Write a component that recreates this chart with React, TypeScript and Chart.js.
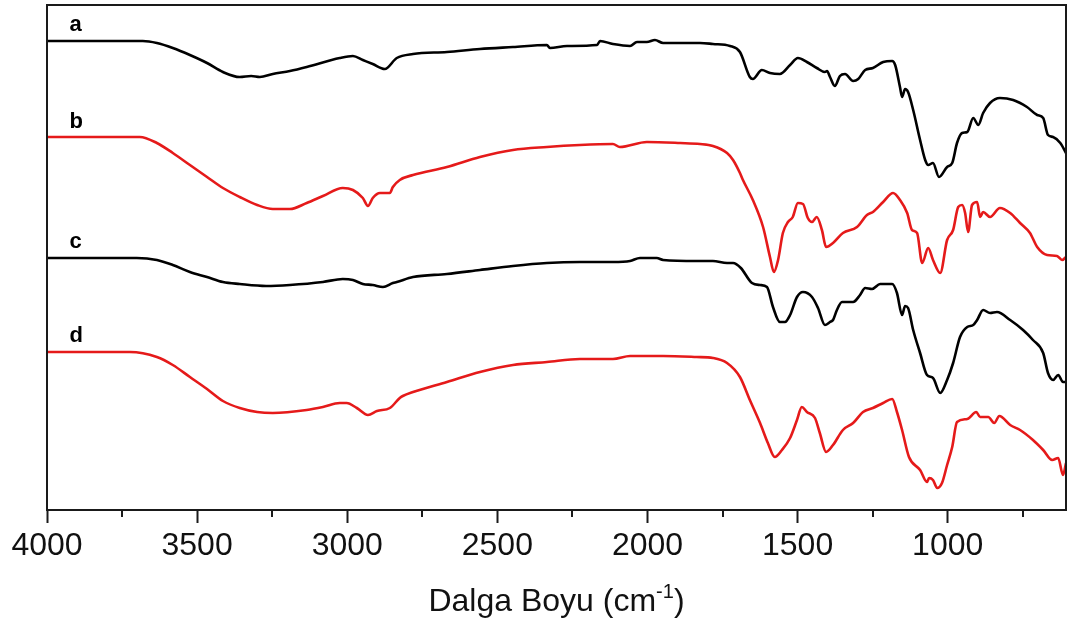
import { useEffect, useRef } from 'react';
import { Chart, registerables } from 'chart.js';

Chart.register(...registerables);

// X axis (wavenumber, cm-1)
const xMin = 606;
const xMax = 4000;
const xTicks = [4000, 3500, 3000, 2500, 2000, 1500, 1000];
const xMinorTicks = [3750, 3250, 2750, 2250, 1750, 1250, 750];

// Series labels and label anchors (wavenumber, offset transmittance)
const seriesNames = ['a', 'b', 'c', 'd'];
const seriesColors = ['#000000', '#e51a1a', '#000000', '#e51a1a'];
const labelWavenumber = 3925;
const labelLevels = [479, 382, 262, 168];

// Spectrum a
const aWavenumbers = [4000, 3800, 3681, 3634, 3581, 3524, 3467, 3414, 3358, 3320, 3291, 3248, 3191, 3135, 3025, 2981, 2948, 2915, 2875, 2835, 2781, 2668, 2558, 2448, 2335, 2325, 2268, 2168, 2158, 2115, 2058, 2035, 2002, 1975, 1948, 1891, 1825, 1782, 1725, 1692, 1659, 1649, 1619, 1592, 1559, 1525, 1499, 1469, 1436, 1409, 1402, 1392, 1376, 1359, 1342, 1315, 1298, 1275, 1249, 1215, 1185, 1175, 1159, 1152, 1142, 1132, 1115, 1092, 1075, 1065, 1049, 1029, 1002, 985, 969, 952, 935, 915, 898, 882, 859, 826, 782, 736, 702, 682, 666, 649, 625, 606];
const aValues = [469, 469, 469, 467, 462, 455, 447, 438, 433, 434, 433, 436, 439, 443, 452, 454, 450, 446, 441, 452, 456, 458, 461, 463, 465, 462, 464, 465, 469, 466, 464, 468, 468, 470, 467, 467, 467, 466, 464, 458, 433, 431, 440, 437, 436, 445, 452, 448, 442, 438, 439, 433, 424, 434, 436, 429, 431, 440, 442, 448, 449, 445, 423, 413, 421, 418, 400, 370, 350, 345, 347, 333, 343, 347, 367, 377, 378, 392, 385, 397, 407, 412, 410, 403, 395, 392, 375, 373, 367, 357];

// Spectrum b
const bWavenumbers = [4000, 3691, 3634, 3581, 3524, 3467, 3414, 3358, 3300, 3248, 3191, 3135, 3081, 3015, 2981, 2948, 2931, 2915, 2891, 2858, 2848, 2825, 2781, 2668, 2558, 2448, 2335, 2225, 2115, 2092, 2002, 1891, 1825, 1782, 1735, 1715, 1692, 1682, 1649, 1615, 1592, 1579, 1565, 1549, 1532, 1516, 1499, 1482, 1466, 1452, 1436, 1419, 1405, 1382, 1349, 1302, 1269, 1249, 1215, 1182, 1159, 1135, 1119, 1102, 1085, 1065, 1049, 1025, 1002, 982, 965, 952, 942, 932, 919, 902, 892, 882, 859, 826, 792, 759, 726, 702, 669, 636, 619, 606];
const bValues = [373, 373, 367, 357, 345, 333, 322, 313, 305, 301, 301, 307, 314, 322, 320, 312, 304, 312, 317, 317, 323, 330, 335, 343, 353, 360, 363, 365, 366, 363, 368, 367, 366, 364, 357, 350, 337, 330, 310, 283, 253, 238, 250, 277, 288, 293, 307, 306, 292, 288, 293, 280, 263, 267, 277, 283, 295, 298, 308, 317, 310, 297, 280, 277, 247, 262, 250, 237, 270, 280, 303, 305, 297, 278, 305, 308, 293, 298, 293, 302, 297, 287, 277, 263, 255, 254, 250, 253];

// Spectrum c
const cWavenumbers = [4000, 3701, 3634, 3581, 3524, 3467, 3414, 3358, 3270, 3191, 3081, 3015, 2981, 2948, 2915, 2881, 2848, 2835, 2781, 2668, 2558, 2448, 2335, 2225, 2115, 2058, 2025, 1969, 1948, 1836, 1782, 1735, 1715, 1689, 1652, 1625, 1602, 1582, 1559, 1542, 1525, 1502, 1482, 1452, 1432, 1409, 1392, 1382, 1369, 1352, 1315, 1292, 1275, 1252, 1225, 1185, 1169, 1152, 1142, 1132, 1115, 1092, 1069, 1049, 1025, 1002, 982, 959, 935, 915, 902, 882, 859, 836, 792, 749, 716, 682, 666, 649, 632, 616, 606];
const cValues = [252, 252, 250, 245, 238, 233, 228, 226, 224, 225, 228, 231, 230, 226, 225, 223, 227, 228, 233, 236, 240, 244, 247, 248, 248, 249, 252, 252, 250, 249, 249, 247, 247, 242, 227, 225, 223, 203, 188, 188, 195, 213, 218, 213, 202, 185, 188, 190, 200, 208, 208, 215, 222, 221, 226, 226, 217, 195, 204, 202, 180, 157, 135, 132, 117, 130, 147, 173, 183, 185, 190, 200, 197, 198, 190, 180, 170, 157, 137, 130, 135, 128, 128];

// Spectrum d
const dWavenumbers = [4000, 3724, 3634, 3581, 3524, 3467, 3414, 3358, 3300, 3248, 3135, 3081, 3025, 3002, 2968, 2931, 2901, 2858, 2825, 2815, 2781, 2668, 2558, 2448, 2335, 2225, 2115, 2058, 2025, 1948, 1836, 1782, 1735, 1692, 1659, 1625, 1599, 1576, 1552, 1525, 1502, 1486, 1469, 1442, 1426, 1405, 1382, 1349, 1315, 1282, 1249, 1215, 1185, 1169, 1152, 1129, 1092, 1069, 1062, 1049, 1035, 1019, 1002, 985, 969, 935, 905, 892, 865, 845, 828, 792, 759, 716, 682, 652, 632, 616, 606];
const dValues = [158, 158, 153, 145, 133, 121, 109, 102, 98, 97, 100, 103, 107, 107, 102, 95, 99, 102, 112, 114, 118, 128, 138, 145, 148, 151, 151, 154, 154, 154, 153, 152, 147, 133, 110, 87, 67, 53, 60, 72, 90, 103, 98, 92, 77, 58, 65, 80, 87, 98, 102, 107, 111, 98, 80, 53, 40, 28, 32, 30, 22, 27, 45, 63, 88, 91, 98, 93, 93, 87, 94, 85, 80, 70, 60, 50, 52, 35, 47];

const seriesWavenumbers = [aWavenumbers, bWavenumbers, cWavenumbers, dWavenumbers];
const seriesValues = [aValues, bValues, cValues, dValues];

const FONT = '"Liberation Sans", Arial, Helvetica, sans-serif';

export default function App() {
  const ref = useRef<HTMLCanvasElement>(null);

  useEffect(() => {
    const canvas = ref.current;
    if (!canvas) return;

    const decor = {
      id: 'decor',
      afterDraw(chart: any) {
        const { ctx, chartArea: ca, scales } = chart;
        const xs = scales.x;
        const ys = scales.y;
        ctx.save();
        // frame
        ctx.strokeStyle = '#1a1a1a';
        ctx.lineWidth = 2;
        ctx.strokeRect(ca.left, ca.top, ca.right - ca.left, ca.bottom - ca.top);
        // minor ticks
        ctx.beginPath();
        for (const v of xMinorTicks) {
          const px = Math.round(xs.getPixelForValue(v));
          ctx.moveTo(px, ca.bottom);
          ctx.lineTo(px, ca.bottom + 7);
        }
        ctx.stroke();
        // series labels
        ctx.fillStyle = '#000';
        ctx.font = `bold 22px ${FONT}`;
        ctx.textAlign = 'left';
        ctx.textBaseline = 'alphabetic';
        seriesNames.forEach((n, i) => {
          ctx.fillText(n, xs.getPixelForValue(labelWavenumber), ys.getPixelForValue(labelLevels[i]));
        });
        // axis title with superscript
        const main = 'Dalga Boyu (cm';
        const sup = '-1';
        const close = ')';
        ctx.font = `32px ${FONT}`;
        const w1 = ctx.measureText(main).width;
        const w3 = ctx.measureText(close).width;
        ctx.font = `20px ${FONT}`;
        const w2 = ctx.measureText(sup).width;
        const cx = (ca.left + ca.right) / 2;
        let x0 = cx - (w1 + w2 + w3) / 2;
        const base = 611;
        ctx.font = `32px ${FONT}`;
        ctx.fillStyle = '#111';
        ctx.fillText(main, x0, base);
        x0 += w1;
        ctx.font = `20px ${FONT}`;
        ctx.fillText(sup, x0, base - 13);
        x0 += w2;
        ctx.font = `32px ${FONT}`;
        ctx.fillText(close, x0, base);
        ctx.restore();
      },
    };

    const chart = new Chart(canvas, {
      type: 'line',
      data: {
        datasets: seriesNames.map((n, i) => ({
          label: n,
          data: seriesWavenumbers[i].map((x, j) => ({ x, y: seriesValues[i][j] })),
          borderColor: seriesColors[i],
          backgroundColor: seriesColors[i],
          borderWidth: 2.6,
          pointRadius: 0,
          fill: false,
          cubicInterpolationMode: 'monotone' as const,
          borderJoinStyle: 'round' as const,
        })),
      },
      options: {
        responsive: false,
        animation: false,
        events: [],
        layout: { padding: { left: 47, right: 5, top: 5, bottom: 0 } },
        plugins: { legend: { display: false }, tooltip: { enabled: false }, title: { display: false } },
        scales: {
          x: {
            type: 'linear',
            reverse: true,
            min: xMin,
            max: xMax,
            afterBuildTicks: (scale: any) => {
              scale.ticks = xTicks.map((v) => ({ value: v }));
            },
            afterFit: (scale: any) => {
              scale.height = 109;
            },
            grid: {
              display: true,
              drawOnChartArea: false,
              drawTicks: true,
              tickLength: 13,
              tickWidth: 2,
              tickColor: '#1a1a1a',
            },
            border: { display: false },
            ticks: {
              autoSkip: false,
              maxRotation: 0,
              minRotation: 0,
              padding: 4,
              color: '#111',
              font: { family: FONT, size: 32 },
              callback: (v: any) => String(v),
            },
            title: { display: false },
          },
          y: {
            display: false,
            min: 0,
            max: 505,
          },
        },
      },
      plugins: [decor],
    });

    return () => chart.destroy();
  }, []);

  return (
    <div style={{ position: 'fixed', left: 0, top: 0, width: 1071, height: 619, background: '#fff' }}>
      <canvas ref={ref} width={1071} height={619} style={{ display: 'block' }} />
    </div>
  );
}
